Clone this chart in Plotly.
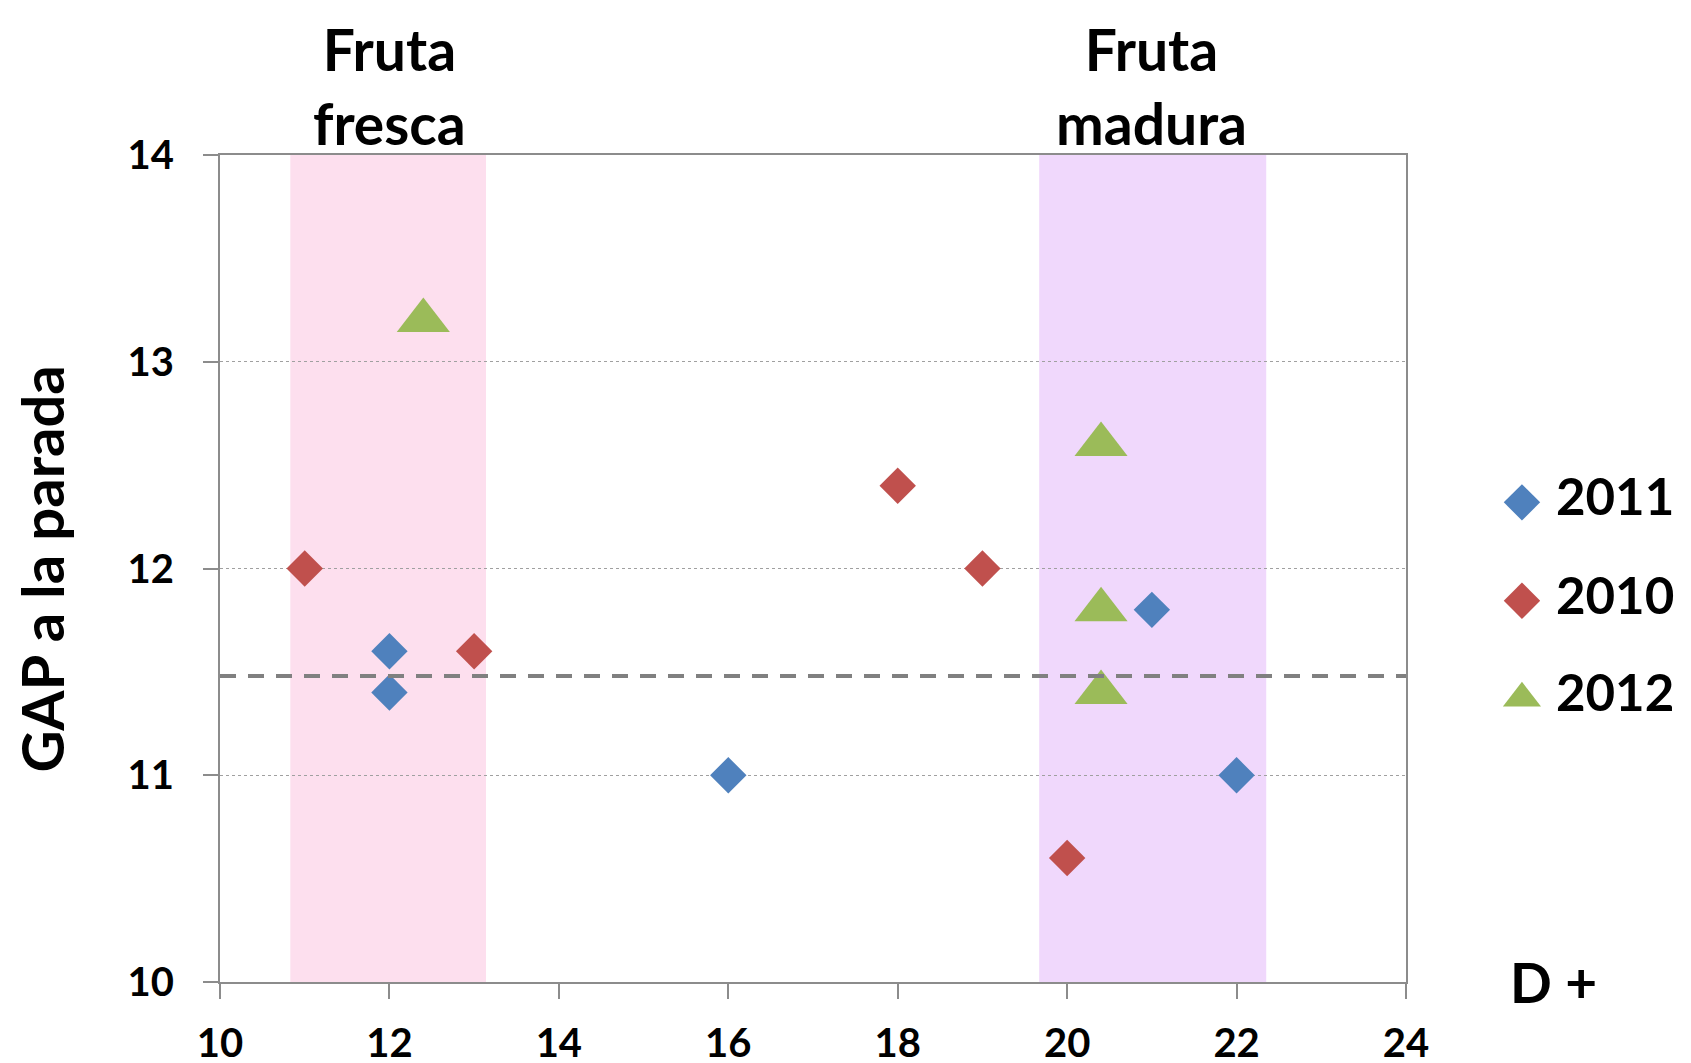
import plotly.graph_objects as go

# data
x_2011 = [12, 12, 16, 21, 22]
y_2011 = [11.6, 11.4, 11.0, 11.8, 11.0]
x_2010 = [11, 13, 18, 19, 20]
y_2010 = [12.0, 11.6, 12.4, 12.0, 10.6]
x_2012 = [12.4, 20.4, 20.4, 20.4]
y_2012 = [13.2, 12.6, 11.8, 11.4]

series_names = ["2011", "2010", "2012"]
series_colors = ["#4F81BD", "#C0504D", "#9BBB59"]

gap_mean = 11.48            # dashed reference line
fresca_band = [10.83, 13.14]
madura_band = [19.67, 22.35]

x_ticks = [10, 12, 14, 16, 18, 20, 22, 24]
y_ticks = [10, 11, 12, 13, 14]

FONT = "Lato"
AXIS_GRAY = "#8C8C8C"

fig = go.Figure()

fig.add_trace(go.Scatter(x=x_2011, y=y_2011, mode="markers", name="2011",
                         marker=dict(symbol="diamond", size=28, color=series_colors[0])))
fig.add_trace(go.Scatter(x=x_2010, y=y_2010, mode="markers", name="2010",
                         marker=dict(symbol="diamond", size=28, color=series_colors[1])))
fig.add_trace(go.Scatter(x=x_2012, y=y_2012, mode="markers", name="2012",
                         marker=dict(symbol="triangle-up", size=46, color=series_colors[2])))

# hand-made legend on its own little axis pair, to get big markers
legend_y = [0.58, 0.461, 0.343]
legend_symbols = ["diamond", "diamond", "triangle-up"]
legend_sizes = [28, 28, 33]
for i in range(3):
    fig.add_trace(go.Scatter(x=[0.202], y=[legend_y[i]], mode="markers", xaxis="x2", yaxis="y2",
                             showlegend=False, hoverinfo="skip", cliponaxis=False,
                             marker=dict(symbol=legend_symbols[i], size=legend_sizes[i],
                                         color=series_colors[i])))
fig.add_trace(go.Scatter(x=[0.355] * 3, y=legend_y, mode="text", text=series_names,
                         textposition="middle right", xaxis="x2", yaxis="y2",
                         showlegend=False, hoverinfo="skip", cliponaxis=False,
                         textfont=dict(family=FONT, size=51, color="black", weight="bold")))

# shaded bands and the dashed mean line
fig.add_shape(type="rect", xref="x", yref="y domain", x0=fresca_band[0], x1=fresca_band[1],
              y0=0, y1=1, fillcolor="#FDDFEE", line_width=0, layer="below")
fig.add_shape(type="rect", xref="x", yref="y domain", x0=madura_band[0], x1=madura_band[1],
              y0=0, y1=1, fillcolor="#F0D8FC", line_width=0, layer="below")
fig.add_shape(type="line", xref="x domain", yref="y", x0=0, x1=1, y0=gap_mean, y1=gap_mean,
              line=dict(color="#808080", width=4, dash="16px,12px"))

bold = dict(family=FONT, size=57, color="black", weight="bold")
fig.add_annotation(x=12, xref="x", y=1.172, yref="paper", text="Fruta<br>fresca",
                   showarrow=False, font=bold, yanchor="top")
fig.add_annotation(x=21, xref="x", y=1.172, yref="paper", text="Fruta<br>madura",
                   showarrow=False, font=bold, yanchor="top")
fig.add_annotation(x=0.9013, xref="paper", y=0.0, yref="paper", text="D +",
                   showarrow=False, font=dict(family=FONT, size=55, color="black", weight="bold"),
                   yanchor="middle", xanchor="center")
fig.add_annotation(x=-0.1204, xref="paper", y=0.5, yref="paper", text="GAP a la parada",
                   showarrow=False, textangle=-90, xanchor="center", yanchor="middle",
                   font=dict(family=FONT, size=58, color="black", weight="bold"))

fig.update_layout(
    width=1691, height=1063,
    margin=dict(l=212, r=0, t=147, b=89),
    paper_bgcolor="white", plot_bgcolor="white",
    showlegend=False,
    xaxis=dict(domain=[0, 0.8019], range=[10, 24], tickvals=x_ticks, showgrid=False,
               zeroline=False, showline=True, linecolor=AXIS_GRAY, linewidth=2, mirror=True,
               ticks="outside", ticklen=15, tickwidth=2, tickcolor=AXIS_GRAY,
               ticklabelstandoff=10, automargin=False,
               tickfont=dict(family=FONT, size=40, color="black", weight="bold")),
    yaxis=dict(range=[10, 14], tickvals=y_ticks, showgrid=True, gridcolor="#A0A0A0",
               griddash="dot", gridwidth=1, zeroline=False, showline=True,
               linecolor=AXIS_GRAY, linewidth=2, mirror=True,
               ticks="outside", ticklen=15, tickwidth=2, tickcolor=AXIS_GRAY,
               ticklabelstandoff=21, automargin=False,
               tickfont=dict(family=FONT, size=40, color="black", weight="bold")),
    xaxis2=dict(domain=[0.85, 1.0], range=[0, 1], visible=False, fixedrange=True),
    yaxis2=dict(domain=[0, 1], range=[0, 1], visible=False, anchor="x2", fixedrange=True),
)

fig.write_html("out.html")
